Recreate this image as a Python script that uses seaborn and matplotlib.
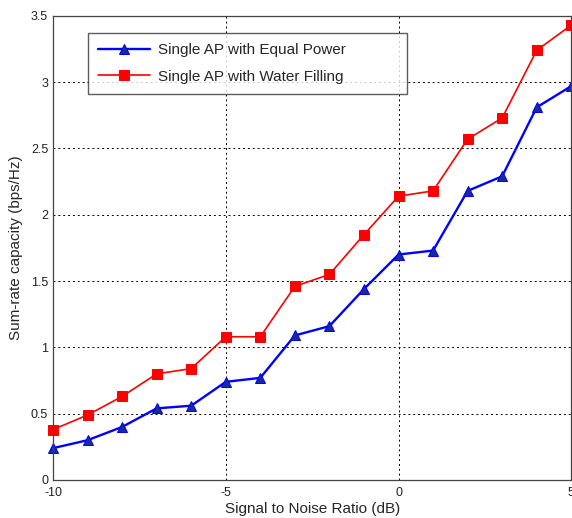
import numpy as np
import pandas as pd
import matplotlib
matplotlib.use('Agg')
import matplotlib.pyplot as plt
import seaborn as sns

snr_db = [-10, -9, -8, -7, -6, -5, -4, -3, -2, -1, 0, 1, 2, 3, 4, 5]
equal_power = [0.24, 0.30, 0.40, 0.54, 0.56, 0.74, 0.77, 1.09, 1.16, 1.44,
               1.70, 1.73, 2.18, 2.29, 2.81, 2.97]
water_filling = [0.38, 0.49, 0.63, 0.80, 0.84, 1.08, 1.08, 1.46, 1.55, 1.85,
                 2.14, 2.18, 2.57, 2.73, 3.24, 3.43]
series_names = ['Single AP with Equal Power', 'Single AP with Water Filling']

df = pd.DataFrame({
    'snr': snr_db * 2,
    'capacity': equal_power + water_filling,
    'scheme': [series_names[0]] * len(snr_db) + [series_names[1]] * len(snr_db),
})

sns.set_style('white')
plt.rcParams['font.family'] = ['Liberation Sans', 'DejaVu Sans']

fig = plt.figure(figsize=(5.72, 5.18), dpi=100)
ax = fig.add_axes([0.0927, 0.0734, 0.906, 0.896])

sns.lineplot(data=df, x='snr', y='capacity', hue='scheme', style='scheme',
             palette={series_names[0]: '#0000ff', series_names[1]: '#ff0000'},
             markers={series_names[0]: '^', series_names[1]: 's'},
             dashes=False, markersize=7, linewidth=1.4, ax=ax)

# matlab-like look: blue triangles with darker fill, thinner red line
for line in ax.lines:
    c = line.get_color()
    line.set_clip_on(False)
    line.set_markeredgecolor(c)
    if line.get_marker() == '^':
        line.set_markerfacecolor('#1c2a99')
        line.set_linewidth(1.7)
    elif line.get_marker() == 's':
        line.set_markerfacecolor('#ff0000')
        line.set_linewidth(1.2)

ax.set_xlim(-10, 5)
ax.set_ylim(0, 3.5)
ax.set_xticks([-10, -5, 0, 5])
ax.set_yticks(np.arange(0, 3.51, 0.5))
ax.set_xticklabels(['-10', '-5', '0', '5'])
ax.set_yticklabels(['0', '0.5', '1', '1.5', '2', '2.5', '3', '3.5'])
ax.grid(True, color='black', linestyle=(0, (2, 3)), linewidth=0.7)
ax.tick_params(direction='in', labelsize=9, length=4, colors='#222222')
ax.tick_params(axis='x', pad=5)
for s in ax.spines.values():
    s.set_color('#444444')
    s.set_linewidth(0.9)

ax.set_xlabel('Signal to Noise Ratio (dB)', fontsize=11, labelpad=2)
ax.set_ylabel('Sum-rate capacity (bps/Hz)', fontsize=11, labelpad=6)

leg = ax.legend(loc='upper left', bbox_to_anchor=(0.0676, 0.962, 0.616, 0),
                mode='expand', fontsize=11, frameon=True, fancybox=False,
                borderpad=0.65, handlelength=3.4, handletextpad=0.5,
                borderaxespad=0, labelspacing=0.8, title=None)
leg.get_frame().set_edgecolor('#333333')
leg.get_frame().set_linewidth(1.0)
for h in leg.legend_handles:
    h.set_markeredgecolor(h.get_color())
    if h.get_marker() == '^':
        h.set_markerfacecolor('#1c2a99')

fig.savefig('out.png', dpi=100)
